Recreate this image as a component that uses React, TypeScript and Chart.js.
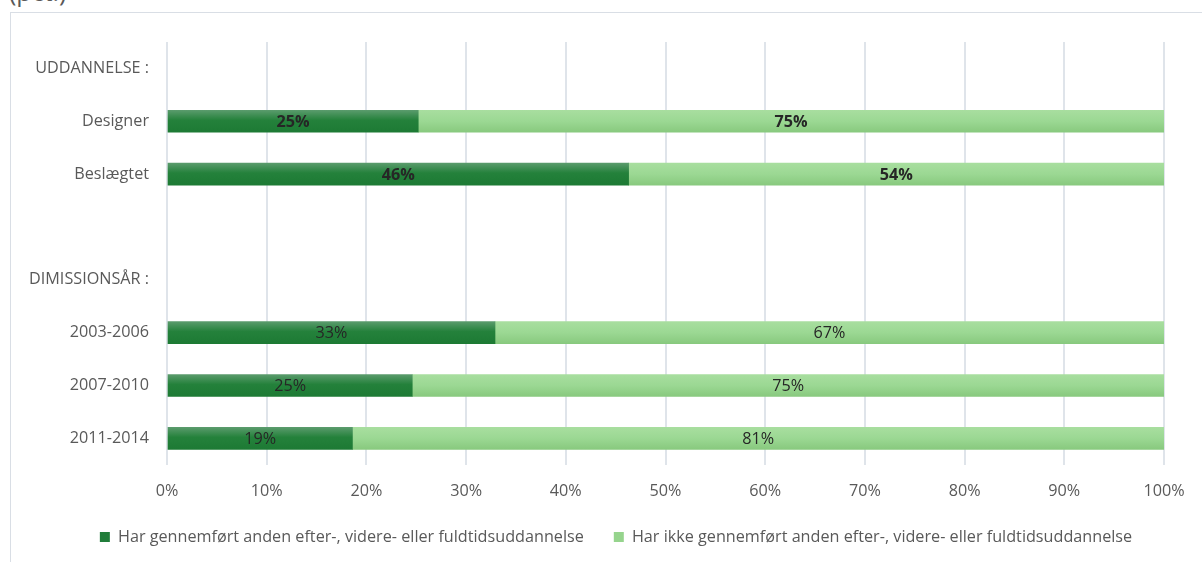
import React, { useEffect, useRef } from "react";
import { Chart, registerables } from "chart.js";

Chart.register(...registerables);

const categories = [
  "UDDANNELSE :",
  "Designer",
  "Beslægtet",
  "",
  "DIMISSIONSÅR :",
  "2003-2006",
  "2007-2010",
  "2011-2014",
];

const seriesNames = [
  "Har gennemført anden efter-, videre- eller fuldtidsuddannelse",
  "Har ikke gennemført anden efter-, videre- eller fuldtidsuddannelse",
];

const completed: (number | null)[] = [null, 25.2, 46.3, null, null, 32.9, 24.6, 18.6];
const notCompleted: (number | null)[] = [null, 74.8, 53.7, null, null, 67.1, 75.4, 81.4];

const xTicks = [0, 10, 20, 30, 40, 50, 60, 70, 80, 90, 100];

const boldRows = [1, 2];

const FONT = "'Open Sans'";
const FS = 16.2;
const BAR = 22;

const darkStops: [number, string][] = [
  [0, "#5a9b6c"],
  [0.45, "#24813b"],
  [1, "#1d7a34"],
];
const lightStops: [number, string][] = [
  [0, "#a8de9f"],
  [0.5, "#9bd893"],
  [1, "#88c97e"],
];

function gradientFor(stops: [number, string][], solid: string) {
  return (ctx: any) => {
    const chart = ctx.chart;
    const y = chart.scales && chart.scales.y;
    if (!y || ctx.dataIndex === undefined) return solid;
    const c = y.getPixelForValue(ctx.dataIndex);
    if (!isFinite(c)) return solid;
    const g = chart.ctx.createLinearGradient(0, c - BAR / 2, 0, c + BAR / 2);
    stops.forEach(([o, col]) => g.addColorStop(o, col));
    return g;
  };
}

const labelPlugin = {
  id: "segmentLabels",
  afterDatasetsDraw(chart: any) {
    const ctx = chart.ctx;
    ctx.save();
    ctx.textAlign = "center";
    ctx.textBaseline = "middle";
    ctx.fillStyle = "#262626";
    chart.data.datasets.forEach((ds: any, i: number) => {
      const meta = chart.getDatasetMeta(i);
      meta.data.forEach((bar: any, j: number) => {
        const v = ds.data[j];
        if (v === null || v === undefined) return;
        const { x, y, base } = bar.getProps(["x", "y", "base"], true);
        const bold = boldRows.includes(j);
        ctx.font = `${bold ? "bold " : ""}${FS}px ${FONT}`;
        ctx.fillText(`${Math.round(v)}%`, (x + base) / 2, y + 1);
      });
    });
    ctx.restore();
  },
};

const legendShift = {
  id: "legendShift",
  afterLayout(chart: any) {
    const lg = chart.legend;
    if (lg) {
      lg.left = 68;
      lg.right = 1164;
    }
  },
};

export default function App() {
  const ref = useRef<HTMLCanvasElement | null>(null);

  useEffect(() => {
    if (!ref.current) return;
    const chart = new Chart(ref.current, {
      type: "bar",
      data: {
        labels: categories,
        datasets: [
          {
            label: seriesNames[0],
            data: completed,
            backgroundColor: gradientFor(darkStops, "#217d3a"),
            barThickness: BAR,
          },
          {
            label: seriesNames[1],
            data: notCompleted,
            backgroundColor: gradientFor(lightStops, "#96d48d"),
            barThickness: BAR,
          },
        ],
      },
      options: {
        indexAxis: "y",
        responsive: false,
        maintainAspectRatio: false,
        animation: false,
        layout: { padding: { left: 0, right: 38, top: 42, bottom: 7 } },
        scales: {
          x: {
            stacked: true,
            min: 0,
            max: 100,
            afterBuildTicks: (scale: any) => {
              scale.ticks = xTicks.map((v) => ({ value: v }));
            },
            afterFit: (scale: any) => {
              scale.height = 34;
            },
            ticks: {
              callback: (v: any) => `${v}%`,
              color: "#595959",
              font: { family: FONT, size: FS },
              padding: 17,
            },
            grid: { color: "#dfe4ea", lineWidth: 2, drawTicks: false },
            border: { display: false },
          },
          y: {
            stacked: true,
            afterFit: (scale: any) => {
              scale.width = 167;
            },
            ticks: {
              color: "#595959",
              font: { family: FONT, size: FS },
              padding: 18,
            },
            grid: { display: false, drawTicks: false },
            border: { display: false },
          },
        },
        plugins: {
          legend: {
            position: "bottom",
            labels: {
              boxWidth: 10,
              boxHeight: 10,
              padding: 30,
              color: "#595959",
              font: { family: FONT, size: FS },
              generateLabels: (chart: any) => {
                const items = Chart.defaults.plugins.legend.labels.generateLabels(chart);
                const solids = ["#217d3a", "#96d48d"];
                items.forEach((it: any, i: number) => {
                  it.fillStyle = solids[i];
                  it.strokeStyle = solids[i];
                  it.lineWidth = 0;
                });
                return items;
              },
            },
          },
          tooltip: { enabled: false },
        },
      },
      plugins: [labelPlugin, legendShift],
    });
    return () => chart.destroy();
  }, []);

  return (
    <div
      style={{
        position: "fixed",
        left: 0,
        top: 0,
        width: 1202,
        height: 562,
        overflow: "hidden",
        background: "#fff",
        fontFamily: FONT,
      }}
    >
      <div
        style={{
          position: "absolute",
          left: 10,
          top: 12,
          width: 1300,
          height: 700,
          border: "1px solid #d9dee5",
        }}
      />
      <div
        style={{
          position: "absolute",
          left: 9,
          top: -21,
          fontSize: 25,
          lineHeight: "25px",
          color: "#595959",
          whiteSpace: "nowrap",
        }}
      >
        (pct.)
      </div>
      <canvas
        ref={ref}
        width={1202}
        height={562}
        style={{ position: "absolute", left: 0, top: 0, width: 1202, height: 562 }}
      />
    </div>
  );
}
